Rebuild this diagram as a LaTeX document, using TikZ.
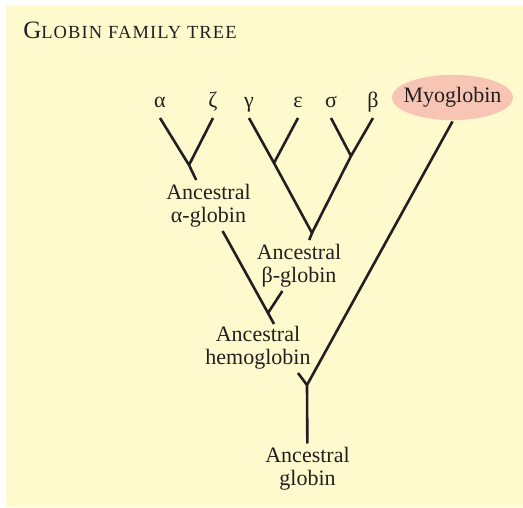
\documentclass[tikz,border=0pt]{standalone}
\usepackage{fontspec}
\setmainfont{Liberation Serif}
\usepackage{xcolor}
\usetikzlibrary{shapes}
\definecolor{panel}{RGB}{255,250,205}
\definecolor{myopink}{RGB}{248,197,180}
\definecolor{ink}{RGB}{35,31,32}

\begin{document}
\begin{tikzpicture}[x=1pt,y=-1pt,color=ink,line width=2.6pt,
  font=\fontsize{22}{23}\selectfont,
  leaf/.style={anchor=base,inner sep=0pt,outer sep=6pt,text height=10pt,text depth=5pt},
  anc/.style={align=center,inner sep=0pt,outer sep=4pt}]
\useasboundingbox (0,0) rectangle (523,507);
\fill[panel](6,5) rectangle (523,507);
\node[anchor=base west,inner sep=0pt] (title) at (22,38)
  {{\fontsize{25}{25}\selectfont G}{\fontsize{18.5}{18.5}\selectfont\addfontfeature{LetterSpace=6}LOBIN FAMILY TREE}};
\node[leaf] (alpha) at (160,107) {α};
\node[leaf] (zeta) at (213,107) {ζ};
\node[leaf] (gamma) at (249,107) {γ};
\node[leaf] (eps) at (298,107) {ε};
\node[leaf] (sigma) at (331,107) {σ};
\node[leaf] (beta) at (373,107) {β};
\node[ellipse,fill=myopink,minimum width=121pt,minimum height=45pt,inner xsep=-6pt,inner ysep=6pt] (myo) at (452.5,97.5) {Myoglobin};
\node[anc] (anca) at (208.5,205.5) {Ancestral\\α-globin};
\node[anc] (ancb) at (299,265.5) {Ancestral\\β-globin};
\node[anc] (anch) at (258,347.5) {Ancestral\\hemoglobin};
\node[anc] (ancg) at (307.5,469) {Ancestral\\globin};
\coordinate (jaz) at (189,165);
\coordinate (jge) at (274,163);
\coordinate (jsb) at (351,156);
\coordinate (jb) at (312,233);
\coordinate (jh) at (268,313);
\coordinate (hstem) at (274,324);
\coordinate (hemotop) at (298,373);
\coordinate (jg) at (307,385);
\draw (alpha.south) -- (jaz) -- (anca);
\draw (zeta.south) -- (jaz);
\draw (gamma.south) -- (jge) -- (jb) -- (ancb);
\draw (eps.south) -- (jge);
\draw (sigma.south) -- (jsb);
\draw (beta.south) -- (jsb) -- (jb);
\draw (anca) -- (jh) -- (hstem);
\draw (ancb) -- (jh);
\draw (myo.south) -- (jg) -- (ancg);
\draw (hemotop) -- (jg);
\end{tikzpicture}
\end{document}
